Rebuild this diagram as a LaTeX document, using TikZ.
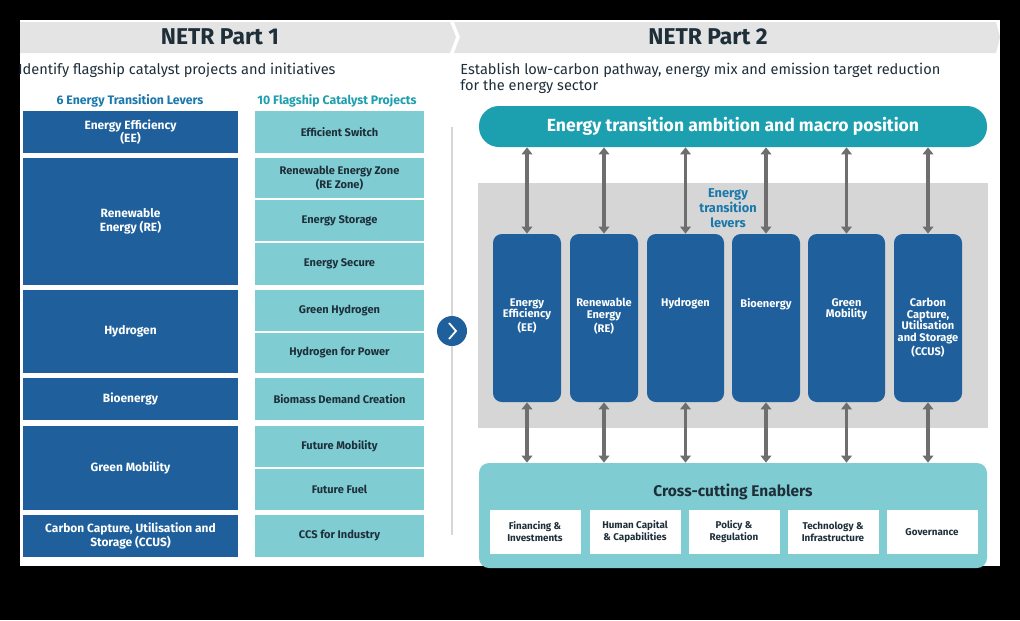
\documentclass[tikz,border=0pt]{standalone}
\usepackage{fontspec}
\setmainfont{Fira Sans}
\usetikzlibrary{arrows.meta}
\definecolor{dblue}{HTML}{1F609C}
\definecolor{lteal}{HTML}{7FCDD3}
\definecolor{pteal}{HTML}{1C9FAE}
\definecolor{hgray}{HTML}{E4E4E4}
\definecolor{pgray}{HTML}{D6D6D6}
\definecolor{agray}{HTML}{6E6E6E}
\definecolor{ttxt}{HTML}{1F2F3A}
\tikzset{
 lever/.style={fill=dblue,draw=none,text=white,font=\fontsize{6.8}{7.8}\selectfont\bfseries,align=center,inner sep=0},
 proj/.style={fill=lteal,draw=none,text=ttxt,font=\fontsize{6.3}{7.6}\selectfont\bfseries,align=center,inner sep=0},
 col/.style={fill=dblue,draw=none,rounded corners=5pt,text=white,font=\fontsize{6.3}{6.3}\selectfont\bfseries,align=center,inner sep=0},
 enab/.style={fill=white,draw=none,text=ttxt,font=\fontsize{5.6}{6.8}\selectfont\bfseries,align=center,inner sep=0},
 dar/.style={draw=agray,line width=2.2pt,{Triangle[length=4pt,width=6pt]}-{Triangle[length=4pt,width=6pt]}},
}
\begin{document}
\begin{tikzpicture}[x=0.02cm,y=-0.02cm]
\useasboundingbox (0,0) rectangle (1020,620);
\fill[black] (0,0) rectangle (1020,620);
\fill[white] (20,20) rectangle (1000,566);
% headers
\fill[hgray] (20,22) -- (450,22) -- (456,37) -- (450,53) -- (20,53) -- cycle;
\fill[hgray] (454,22) -- (996,22) -- (1000,37) -- (996,53) -- (454,53) -- (460,37) -- cycle;
\node[font=\fontsize{13}{13}\selectfont\bfseries,text=ttxt] (h1) at (220,37) {NETR Part 1};
\node[font=\fontsize{13}{13}\selectfont\bfseries,text=ttxt] (h2) at (708,37) {NETR Part 2};
\node[anchor=west,font=\fontsize{8.3}{9}\selectfont,text=ttxt,inner sep=0] (s1) at (18,70) {Identify flagship catalyst projects and initiatives};
\node[anchor=north west,align=left,font=\fontsize{8.3}{7.5}\selectfont,text=ttxt,inner sep=0] (s2) at (460,63) {Establish low-carbon pathway, energy mix and emission target reduction\\for the energy sector};
\node[font=\fontsize{7}{7}\selectfont\bfseries,text=dblue!85!cyan] (c1) at (130,101) {6 Energy Transition Levers};
\node[font=\fontsize{7}{7}\selectfont\bfseries,text=pteal] (c2) at (337,101) {10 Flagship Catalyst Projects};
% levers
\foreach \n/\a/\b/\t in {l1/111/153/{Energy Efficiency\\(EE)}, l2/158/285/{Renewable\\Energy (RE)}, l3/290/373/{Hydrogen}, l4/378/420/{Bioenergy}, l5/426/510/{Green Mobility}, l6/515/557/{Carbon Capture, Utilisation and\\Storage (CCUS)}}
  \node[lever,minimum width=215*0.02cm,minimum height={(\b-\a)*0.02cm}] (\n) at (130.5,{(\a+\b)/2}) {\t};
% projects
\foreach \n/\a/\b/\t in {p1/111/153/{Efficient Switch}, p2/158/198/{Renewable Energy Zone\\(RE Zone)}, p3/200/241/{Energy Storage}, p4/243/285/{Energy Secure}, p5/290/331/{Green Hydrogen}, p6/333/373/{Hydrogen for Power}, p7/378/420/{Biomass Demand Creation}, p8/426/467/{Future Mobility}, p9/469/510/{Future Fuel}, p10/515/557/{CCS for Industry}}
  \node[proj,minimum width=169*0.02cm,minimum height={(\b-\a)*0.02cm}] (\n) at (339.5,{(\a+\b)/2}) {\t};
% divider and circle
\coordinate (vt) at (452,127); \coordinate (vb) at (452,535);
\draw[pgray,line width=1pt] (vt) -- (vb);
\node[circle,fill=dblue,minimum size=30*0.02cm,inner sep=0] (circ) at (452,331) {};
\draw[white,line width=1pt] ([shift={(-3,-8)}]circ.center) -- ([shift={(4,0)}]circ.center) -- ([shift={(-3,8)}]circ.center);
% part 2
\node[fill=pteal,rounded corners=20*0.02cm,minimum width=508*0.02cm,minimum height=41*0.02cm,text=white,font=\fontsize{10}{10}\selectfont\bfseries,inner sep=0] (amb) at (733,126.5) {Energy transition ambition and macro position};
\fill[pgray] (478,183) rectangle (988,428);
\node[font=\fontsize{7.3}{8.4}\selectfont\bfseries,text=dblue!85!cyan,align=center] (etl) at (728,208) {Energy\\transition\\levers};
\node[fill=lteal,rounded corners=10*0.02cm,minimum width=508*0.02cm,minimum height=105*0.02cm,inner sep=0] (enb) at (733,515.5) {};
\node[font=\fontsize{8.8}{8.8}\selectfont\bfseries,text=ttxt] (enbt) at (733,492) {Cross-cutting Enablers};
\foreach \n/\x/\t in {e1/535/{Financing \&\\Investments}, e2/635/{Human Capital\\\& Capabilities}, e3/734/{Policy \&\\Regulation}, e4/833/{Technology \&\\Infrastructure}, e5/932/{Governance}}
  \node[enab,minimum width=91*0.02cm,minimum height=44*0.02cm] (\n) at (\x,532) {\t};
\foreach \n/\x/\w/\t in {k1/527/68/{Energy\\Efficiency\\(EE)}, k2/604/68/{Renewable\\Energy\\(RE)}, k3/685.5/77/{Hydrogen}, k4/766/68/{Bioenergy}, k5/846.5/77/{Green\\Mobility}, k6/928/68/{Carbon\\Capture,\\Utilisation\\and Storage\\(CCUS)}}{
  \node[col,minimum width=\w*0.02cm,minimum height=168*0.02cm] (\n) at (\x,318) {};
  \node[font=\fontsize{6.3}{6.6}\selectfont\bfseries,text=white,align=center,anchor=north,inner sep=0] at (\x,298) {\t};
  \draw[dar] (\n.north |- amb.south) -- (\n.north);
  \draw[dar] (\n.south) -- (\n.south |- enb.north);
}
\end{tikzpicture}
\end{document}
